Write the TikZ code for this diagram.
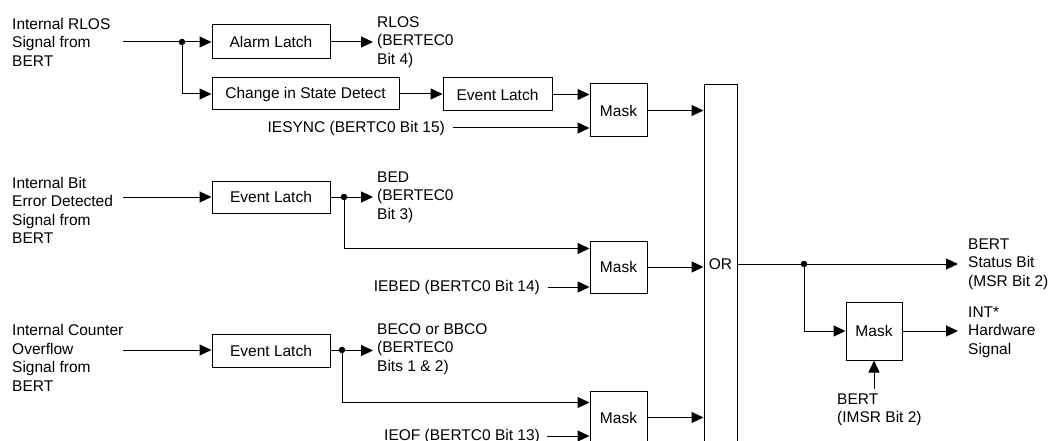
\documentclass[tikz,border=0pt]{standalone}
\usepackage{fontspec}
\setmainfont{Liberation Sans}
\usetikzlibrary{arrows.meta,calc}
\begin{document}
\begin{tikzpicture}[x=1pt,y=-1pt,
  every node/.style={font=\fontsize{15.5}{18.5}\selectfont},
  blk/.style={draw,line width=1pt,inner sep=0pt,align=center},
  lbl/.style={inner sep=0pt,align=left,anchor=west},
  arr/.style={line width=1pt,-{Triangle[length=12pt,width=11pt]}},
  wire/.style={line width=1pt},
  dot/.style={circle,fill,inner sep=0pt,minimum size=6.5pt}]
\useasboundingbox (0,0) rectangle (1052,441);
\clip (0,0) rectangle (1052,441);

% ---- row 1
\node[lbl] (in1) at (12,42) {Internal RLOS\\Signal from\\BERT};
\coordinate (s1) at (123,42);
\node[blk,minimum width=118pt,minimum height=34pt] (al) at (271,42) {Alarm Latch};
\node[lbl] (rlos) at (377,42) {RLOS\\(BERTEC0\\Bit 4)};
\node[blk,minimum width=187pt,minimum height=32pt] (csd) at (305.5,94) {Change in State Detect};
\node[blk,minimum width=109pt,minimum height=33pt] (el1) at (497.5,94.5) {Event Latch};
\node[blk,minimum width=57pt,minimum height=53pt] (m1) at (618.5,110.5) {Mask};
\node[lbl,anchor=east] (iesync) at (445,128) {IESYNC (BERTC0 Bit 15)};
\node[blk,minimum width=33pt,minimum height=358pt] (orb) at (720.5,264) {OR};

\draw[arr] (s1) -- (al.west);
\draw[arr] (182,42) |- (csd.west);
\draw[arr] (al.east) -- ([xshift=-4pt]rlos.west);
\draw[arr] (csd.east) -- (csd.east -| el1.west);
\draw[arr] (el1.east) -- (el1.east -| m1.west);
\draw[arr] ([xshift=8pt]iesync.east) -- (iesync.east -| m1.west);
\draw[arr] (m1.east) -- (m1.east -| orb.west);
\node[dot] (d1) at (182,42) {};

% ---- row 2
\node[lbl] (in2) at (12,210.5) {Internal Bit\\Error Detected\\Signal from\\BERT};
\coordinate (s2) at (123,197);
\node[blk,minimum width=118pt,minimum height=32pt] (el2) at (271,197) {Event Latch};
\node[lbl] (bed) at (377,197) {BED\\(BERTEC0\\Bit 3)};
\node[blk,minimum width=57pt,minimum height=52pt] (m2) at (618.5,267) {Mask};
\node[lbl,anchor=east] (iebed) at (540,287) {IEBED (BERTC0 Bit 14)};

\draw[arr] (s2) -- (el2.west);
\draw[arr] (el2.east) -- ([xshift=-4pt]bed.west);
\draw[arr] (344,197) |- ($(m2.north west)+(0,8)$);
\draw[arr] ([xshift=8pt]iebed.east) -- (iebed.east -| m2.west);
\draw[arr] (m2.east) -- (m2.east -| orb.west);
\node[dot] (d2) at (344,197) {};

% ---- row 3
\node[lbl] (in3) at (12,358) {Internal Counter\\Overflow\\Signal from\\BERT};
\coordinate (s3) at (123,350);
\node[blk,minimum width=118pt,minimum height=33pt] (el3) at (271,350.5) {Event Latch};
\node[lbl] (beco) at (377,349) {BECO or BBCO\\(BERTEC0\\Bits 1 \& 2)};
\node[blk,minimum width=57pt,minimum height=53pt] (m3) at (618.5,417.5) {Mask};
\node[lbl,anchor=east] (ieof) at (540,436) {IEOF (BERTC0 Bit 13)};

\draw[arr] (s3) -- (s3 -| el3.west);
\draw[arr] (el3.east) -- ($(el3.east -| beco.west)+(-4,0)$);
\draw[arr] (342,350) |- ($(m3.north west)+(0,12)$);
\draw[arr] ([xshift=7pt]ieof.east) -- (ieof.east -| m3.west);
\draw[arr] (m3.east) -- (m3.east -| orb.west);
\node[dot] (d3) at (342,350) {};

% ---- right side
\node[lbl] (bert) at (968,264) {BERT\\Status Bit\\(MSR Bit 2)};
\node[blk,minimum width=56pt,minimum height=58pt] (m4) at (874,331) {Mask};
\node[lbl] (intl) at (968,332) {INT*\\Hardware\\Signal};
\node[lbl] (imsr) at (837,410) {BERT\\(IMSR Bit 2)};

\draw[arr] (orb.east) -- ([xshift=-10pt]bert.west);
\draw[arr] (804,264) |- (m4.west);
\draw[arr] (m4.east) -- ($(m4.east -| intl.west)+(-10,0)$);
\draw[arr] ($(m4.south)+(0,28)$) -- (m4.south);
\node[dot] (d4) at (804,264) {};
\end{tikzpicture}
\end{document}
